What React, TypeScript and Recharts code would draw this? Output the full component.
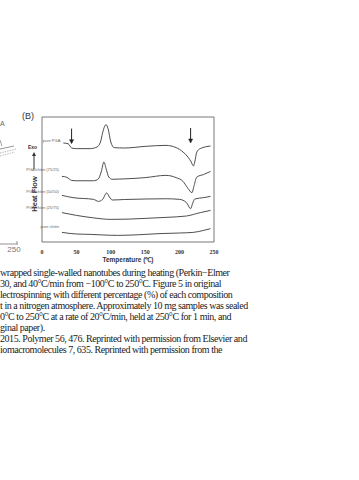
import { LineChart, Line, XAxis, YAxis, ReferenceArea, ReferenceDot } from "recharts";

// temperature grid (°C) per series, heat flow in arbitrary units (0-100)
const pgaT = [31, 38, 43, 50, 70, 80, 85, 88, 91, 93, 96, 100, 105, 120, 150, 180, 195, 205, 212, 217, 220, 222, 225, 230, 245];
const pgaV = [79.2, 78.6, 75.2, 74.7, 74.7, 76, 80, 87, 92.5, 93.9, 90.7, 80, 75.5, 75.2, 76.5, 77.3, 75.5, 72, 68, 64, 60.8, 64, 72, 74.7, 76.8];

const b75T = [29, 36, 43, 50, 75, 82, 86, 90, 93, 97, 102, 120, 150, 180, 195, 205, 212, 218, 221, 225, 235, 245];
const b75V = [52.5, 51.8, 49.3, 49, 49, 50.5, 56, 64, 59, 52, 50.2, 50.5, 51.5, 53.3, 51.5, 48.5, 43, 39.5, 45, 52, 54, 56.5];

const b50T = [29, 45, 75, 82, 88, 94, 98, 102, 120, 150, 180, 200, 210, 216, 219, 222, 235, 245];
const b50V = [37.3, 35.5, 34.1, 32.5, 34, 39.2, 36, 33.6, 34, 34.4, 34.6, 34.1, 31.5, 26.7, 31, 34.4, 35.5, 36.5];

const b25T = [29, 50, 75, 100, 125, 150, 180, 210, 230, 245];
const b25V = [23.5, 21.3, 19.3, 18.1, 18.3, 18.9, 19.7, 20.8, 23.5, 25.3];

const chitinT = [29, 50, 70, 90, 110, 140, 170, 200, 220, 235, 245];
const chitinV = [7.7, 6.4, 6.1, 5.6, 5.3, 5.8, 6.7, 7.2, 7.7, 9.3, 10.7];

const xTicks = [0, 50, 100, 150, 200, 250];

const arrowTemps = [43, 216];
const arrowTips = [78.7, 79.2];

const seriesNames = ["pure PGA", "PGA/chitin (75/25)", "PGA/chitin (50/50)", "PGA/chitin (25/75)", "pure chitin"];

const captionLines = [
  "wrapped single-walled nanotubes during heating (Perkin\u2212Elmer",
  "30, and 40\u00b0C/min from \u2212100\u00b0C to 250\u00b0C. Figure 5 in original",
  "lectrospinning with different percentage (%) of each composition",
  "t in a nitrogen atmosphere. Approximately 10 mg samples was sealed",
  "0\u00b0C to 250\u00b0C at a rate of 20\u00b0C/min, held at 250\u00b0C for 1 min, and",
  "ginal paper).",
  "2015. Polymer 56, 476. Reprinted with permission from Elsevier and",
  "iomacromolecules 7, 635. Reprinted with permission from the",
];

const toPts = (t: number[], v: number[]) => t.map((x, i) => ({ t: x, v: v[i] }));
const series = [toPts(pgaT, pgaV), toPts(b75T, b75V), toPts(b50T, b50V), toPts(b25T, b25V), toPts(chitinT, chitinV)];
const labelDy = [-1, -5, -2, -4, -4];

const ink = "#3a3a3a";

const Arrow = (props: any) => {
  const { cx, cy } = props;
  return (
    <g stroke="#222" fill="#222">
      <line x1={cx} y1={cy - 15} x2={cx} y2={cy - 3} strokeWidth={1} />
      <path d={`M${cx - 2},${cy - 4} L${cx + 2},${cy - 4} L${cx},${cy} Z`} strokeWidth={0.5} />
    </g>
  );
};

export default function App() {
  return (
    <div style={{ position: "absolute", left: 0, top: 0, width: 359, height: 480, background: "#fff", overflow: "hidden" }}>
      {/* fragment of panel A */}
      <svg width={40} height={170} style={{ position: "absolute", left: 0, top: 100 }}>
        <text x={0} y={26} fontSize={7} fill="#666" fontFamily="Arial">A</text>
        <line x1={0} y1={40} x2={2} y2={46} stroke="#888" strokeWidth={0.8} />
        <line x1={0} y1={49} x2={14} y2={46} stroke="#777" strokeWidth={0.8} />
        <line x1={0} y1={53} x2={16} y2={49} stroke="#888" strokeWidth={0.6} strokeDasharray="1.5 1" />
        <line x1={0} y1={56} x2={15} y2={52} stroke="#999" strokeWidth={0.6} strokeDasharray="1.5 1" />
        <line x1={0} y1={144} x2={18} y2={144} stroke="#777" strokeWidth={0.8} />
        <line x1={17} y1={144} x2={17} y2={141} stroke="#777" strokeWidth={0.8} />
        <text x={14} y={152} fontSize={8} fill="#777" fontFamily="Arial" textAnchor="middle">250</text>
      </svg>

      <div style={{ position: "absolute", left: 22, top: 111, fontFamily: "Arial", fontSize: 9, color: "#333" }}>(B)</div>
      <div style={{ position: "absolute", left: 28, top: 144, fontFamily: "Arial", fontSize: 5, fontWeight: "bold", color: "#333" }}>Exo</div>
      <svg width={10} height={20} style={{ position: "absolute", left: 29, top: 151 }}>
        <line x1={5} y1={18} x2={5} y2={4} stroke="#333" strokeWidth={1} />
        <path d="M3,5 L7,5 L5,1 Z" fill="#333" />
      </svg>
      <div style={{ position: "absolute", left: 34, top: 194, transform: "translate(-50%, -50%) rotate(-90deg)", fontFamily: "Arial", fontSize: 7.5, fontWeight: "bold", color: "#333", whiteSpace: "nowrap" }}>Heat Flow</div>

      <div style={{ position: "absolute", left: 0, top: 100 }}>
        <LineChart width={230} height={170} margin={{ top: 17, right: 16, bottom: 8, left: 42 }}>
          <XAxis
            type="number"
            dataKey="t"
            domain={[0, 250]}
            ticks={xTicks}
            axisLine={false}
            tickLine={false}
            tickMargin={2}
            tick={{ fontSize: 6, fontWeight: "bold", fill: "#333", fontFamily: "Liberation Serif" }}
            height={20}
            label={{ value: "Temperature (\u2103)", position: "insideBottom", offset: 0, fontSize: 6.5, fontWeight: "bold", fill: "#333", fontFamily: "Arial" }}
          />
          <YAxis type="number" domain={[0, 100]} hide />
          <ReferenceArea x1={0} x2={250} y1={0} y2={100} fill="none" stroke="#555" strokeWidth={0.8} />
          {series.map((d, i) => (
            <Line
              key={seriesNames[i]}
              data={d}
              dataKey="v"
              type="monotone"
              stroke={ink}
              strokeWidth={0.9}
              dot={false}
              isAnimationActive={false}
              label={(p: any) =>
                p.index === 0 ? (
                  <text key="l" x={p.x - 3} y={p.y + labelDy[i]} fontSize={4} fill="#666" textAnchor="end" fontFamily="Arial">
                    {seriesNames[i]}
                  </text>
                ) : (
                  <g key={p.index} />
                )
              }
            />
          ))}
          {arrowTemps.map((t, i) => (
            <ReferenceDot key={t} x={t} y={arrowTips[i]} r={0} shape={<Arrow />} />
          ))}
        </LineChart>
      </div>

      <div style={{ position: "absolute", left: 0, top: 267, fontFamily: "Liberation Serif", fontSize: 10, letterSpacing: -0.45, lineHeight: "11px", color: "#222", whiteSpace: "nowrap" }}>
        {captionLines.map((l) => (
          <div key={l}>{l}</div>
        ))}
      </div>
    </div>
  );
}
